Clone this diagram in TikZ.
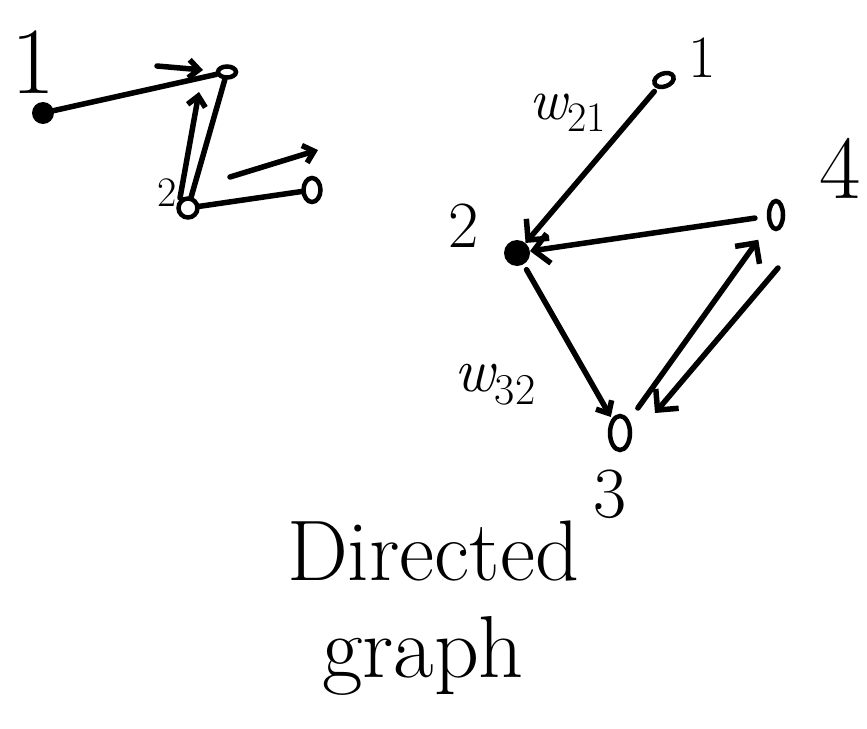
\documentclass[tikz,border=0pt]{standalone}
\usetikzlibrary{arrows.meta,shapes.geometric,calc}
\begin{document}
\begin{tikzpicture}[x=1pt,y=-1pt,
  ink/.style={line width=5.5pt, line cap=round, line join=round},
  arr/.style={ink, -{Straight Barb[length=15pt,width=30pt]}},
  arrs/.style={ink, -{Straight Barb[length=10pt,width=18pt]}},
  vtx/.style={draw, ellipse, line width=4.5pt, inner sep=0pt},
  dot/.style={circle, fill, inner sep=0pt},
  lab/.style={inner sep=0pt}
]
\useasboundingbox (0,0) rectangle (867,728);

% ---- left sketch ----
\node[dot, minimum size=22pt] (a) at (43,113) {};
\node[vtx, minimum width=18pt, minimum height=11pt] (b) at (227,72) {};
\node[vtx, minimum width=19pt, minimum height=19pt] (c) at (188,208) {};
\node[vtx, minimum width=17pt, minimum height=24pt] (d) at (312,190) {};
\node[lab, font=\fontsize{95}{95}\selectfont] (la) at (33,62) {1};
\node[lab, font=\fontsize{42}{42}\selectfont] (lc) at (167,193) {2};

\draw[ink] (a) -- (b);
\coordinate (ab1) at (157,66); \coordinate (ab2) at (203,70);
\draw[arrs] (ab1) -- (ab2);
\draw[ink] (b) -- (c);
\coordinate (cb1) at (180,198); \coordinate (cb2) at (199,92);
\draw[arrs] (cb1) -- (cb2);
\draw[ink] (c) -- (d);
\coordinate (cd1) at (230,177); \coordinate (cd2) at (318,150);
\draw[arrs] (cd1) -- (cd2);

% ---- right graph ----
\node[vtx, minimum width=20pt, minimum height=13pt, rotate=20] (n1) at (664,80) {};
\node[dot, minimum size=26pt] (n2) at (517,253) {};
\node[vtx, minimum width=14pt, minimum height=28pt] (n4) at (776,215) {};
\node[vtx, minimum width=20pt, minimum height=34pt] (n3) at (620,433) {};

\node[lab, font=\fontsize{60}{60}\selectfont] (l1) at (702,58) {1};
\node[lab, font=\fontsize{66}{66}\selectfont] (l2) at (464,226) {2};
\node[lab, font=\fontsize{90}{90}\selectfont] (l4) at (840,168) {4};
\node[lab, font=\fontsize{72}{72}\selectfont] (l3) at (610,494) {3};
\node[lab, font=\fontsize{58}{58}\selectfont\itshape] (w21) at (568,113)
  {w\raisebox{-12pt}{\fontsize{42}{42}\selectfont\upshape 21}};
\node[lab, font=\fontsize{62}{62}\selectfont\itshape] (w32) at (495,385)
  {w\raisebox{-13pt}{\fontsize{44}{44}\selectfont\upshape 32}};

\draw[arr, shorten <=4pt] (n1) -- (n2);
\draw[arr, shorten <=12pt] (n4) -- (n2);
\draw[arrs, shorten <=6pt, shorten >=2pt] (n2) -- (n3);
\draw[arr, shorten <=15pt, shorten >=18pt] (n3) -- (n4);
\coordinate (q1) at (778,268); \coordinate (q2) at (655,413);
\draw[arr] (q1) -- (q2);

% ---- caption ----
\node[lab, anchor=base, font=\fontsize{86}{88}\selectfont] (t1) at (433,580) {Directed};
\node[lab, anchor=base, font=\fontsize{88}{90}\selectfont] (t2) at (423,677) {graph};
\end{tikzpicture}
\end{document}
